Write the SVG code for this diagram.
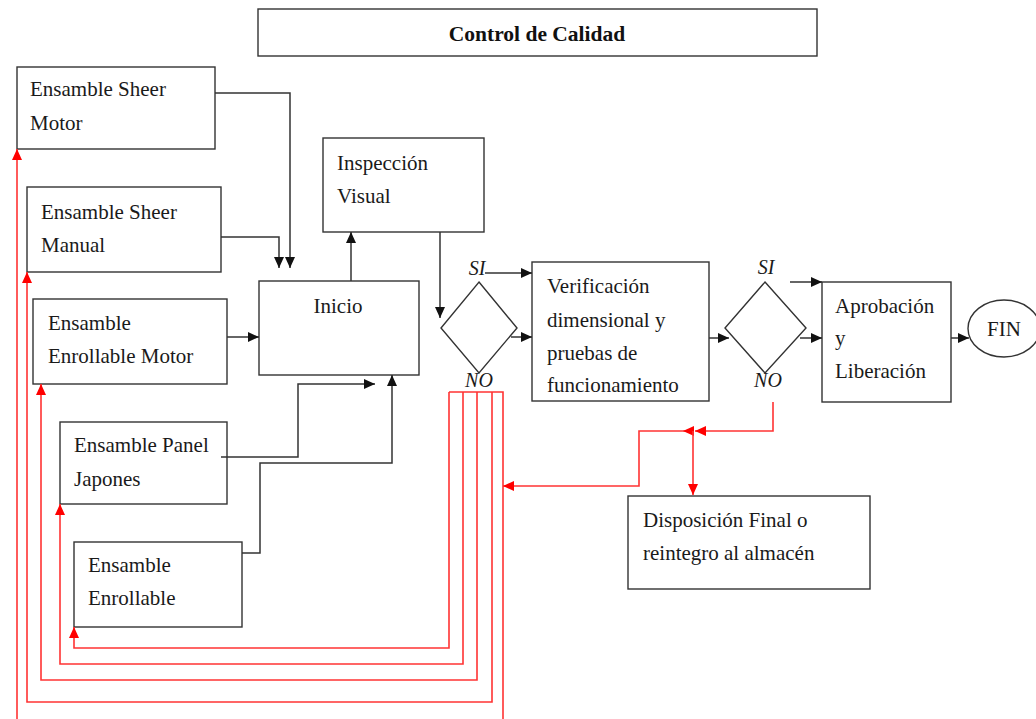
<svg xmlns="http://www.w3.org/2000/svg" width="1036" height="719" viewBox="0 0 1036 719">
  <style>
    .box { fill: #ffffff; stroke: #333333; stroke-width: 1.4; }
    .txt { font-family: 'Liberation Serif', 'DejaVu Serif', serif; font-size: 21px; fill: #1a1a1a; }
    .title { font-family: 'Liberation Serif', 'DejaVu Serif', serif; font-size: 21.5px; font-weight: bold; fill: #111111; }
    .lbl { font-family: 'Liberation Serif', 'DejaVu Serif', serif; font-size: 20px; font-style: italic; fill: #1a1a1a; }
    .blk { fill: none; stroke: #333333; stroke-width: 1.5; }
    .red { fill: none; stroke: #ff3333; stroke-width: 1.6; }
  </style>
  <defs>
    <marker id="arrowBlack" markerUnits="userSpaceOnUse" markerWidth="12" markerHeight="11" refX="11" refY="5" orient="auto">
      <path d="M0,0 L11,5 L0,10 z" fill="#111111"/>
    </marker>
    <marker id="arrowRed" markerUnits="userSpaceOnUse" markerWidth="12" markerHeight="11" refX="11" refY="5" orient="auto">
      <path d="M0,0 L11,5 L0,10 z" fill="#ff0000"/>
    </marker>
  </defs>

  <rect width="1036" height="719" fill="#ffffff"/>

  <g id="title">
    <rect class="box" x="258" y="9" width="559" height="47"/>
    <text class="title" x="537" y="41" text-anchor="middle">Control de Calidad</text>
  </g>

  <g id="sheer-motor">
    <rect class="box" x="17" y="67" width="198" height="82"/>
    <text class="txt" x="30" y="96">Ensamble Sheer</text>
    <text class="txt" x="30" y="130">Motor</text>
  </g>

  <g id="sheer-manual">
    <rect class="box" x="27" y="187" width="194" height="85"/>
    <text class="txt" x="41" y="219">Ensamble Sheer</text>
    <text class="txt" x="41" y="252">Manual</text>
  </g>

  <g id="enrollable-motor">
    <rect class="box" x="33" y="299" width="194" height="85"/>
    <text class="txt" x="48" y="330">Ensamble</text>
    <text class="txt" x="48" y="363">Enrollable Motor</text>
  </g>

  <g id="panel-japones">
    <rect class="box" x="60" y="422" width="167" height="82"/>
    <text class="txt" x="74" y="452">Ensamble Panel</text>
    <text class="txt" x="74" y="486">Japones</text>
  </g>

  <g id="enrollable">
    <rect class="box" x="74" y="542" width="168" height="85"/>
    <text class="txt" x="88" y="572">Ensamble</text>
    <text class="txt" x="88" y="605">Enrollable</text>
  </g>

  <g id="inicio">
    <rect class="box" x="259" y="281" width="160" height="94"/>
    <text class="txt" x="338" y="313" text-anchor="middle">Inicio</text>
  </g>

  <g id="inspeccion">
    <rect class="box" x="323" y="138" width="161" height="94"/>
    <text class="txt" x="337" y="170">Inspección</text>
    <text class="txt" x="337" y="203">Visual</text>
  </g>

  <g id="decision-1">
    <polygon class="box" points="479,282 517,328 479,373 441,328"/>
    <text class="lbl" x="477" y="275" text-anchor="middle">SI</text>
    <text class="lbl" x="479" y="387" text-anchor="middle">NO</text>
  </g>

  <g id="verificacion">
    <rect class="box" x="532" y="262" width="177" height="139"/>
    <text class="txt" x="547" y="293">Verificación</text>
    <text class="txt" x="547" y="327">dimensional y</text>
    <text class="txt" x="547" y="360">pruebas de</text>
    <text class="txt" x="547" y="392">funcionamiento</text>
  </g>

  <g id="decision-2">
    <polygon class="box" points="765,282 806,328 765,373 725,328"/>
    <text class="lbl" x="766" y="274" text-anchor="middle">SI</text>
    <text class="lbl" x="768" y="387" text-anchor="middle">NO</text>
  </g>

  <g id="aprobacion">
    <rect class="box" x="822" y="282" width="129" height="120"/>
    <text class="txt" x="835" y="313">Aprobación</text>
    <text class="txt" x="835" y="345">y</text>
    <text class="txt" x="835" y="378">Liberación</text>
  </g>

  <g id="fin">
    <ellipse class="box" cx="1004" cy="328.5" rx="36" ry="28.5"/>
    <text class="txt" x="1004" y="336" text-anchor="middle">FIN</text>
  </g>

  <g id="disposicion">
    <rect class="box" x="628" y="496" width="242" height="93"/>
    <text class="txt" x="643" y="527">Disposición Final o</text>
    <text class="txt" x="643" y="560">reintegro al almacén</text>
  </g>

  <g id="connectors">
    <!-- main flow -->
    <path class="blk" d="M215,93 H290 V268" marker-end="url(#arrowBlack)"/>
    <path class="blk" d="M221,237 H279 V268" marker-end="url(#arrowBlack)"/>
    <path class="blk" d="M227,337 H259" marker-end="url(#arrowBlack)"/>
    <path class="blk" d="M221,457 H298 V384 H375" marker-end="url(#arrowBlack)"/>
    <path class="blk" d="M242,553 H260 V463 H392 V375" marker-end="url(#arrowBlack)"/>
    <path class="blk" d="M351,281 V232" marker-end="url(#arrowBlack)"/>
    <path class="blk" d="M440,232 V318" marker-end="url(#arrowBlack)"/>
    <path class="blk" d="M485,273 H532" marker-end="url(#arrowBlack)"/>
    <path class="blk" d="M511,337 H532" marker-end="url(#arrowBlack)"/>
    <path class="blk" d="M709,338 H729" marker-end="url(#arrowBlack)"/>
    <path class="blk" d="M790,282 H822" marker-end="url(#arrowBlack)"/>
    <path class="blk" d="M800,338 H822" marker-end="url(#arrowBlack)"/>
    <path class="blk" d="M951,338 H969" marker-end="url(#arrowBlack)"/>

    <!-- rejection returns -->
    <path class="red" d="M449,392 H503 V719"/>
    <path class="red" d="M449,392 V648 H74 V627" marker-end="url(#arrowRed)"/>
    <path class="red" d="M463,392 V664 H60 V504" marker-end="url(#arrowRed)"/>
    <path class="red" d="M477,392 V680 H41 V384" marker-end="url(#arrowRed)"/>
    <path class="red" d="M492,392 V702 H27 V272" marker-end="url(#arrowRed)"/>
    <path class="red" d="M17,719 V149" marker-end="url(#arrowRed)"/>

    <path class="red" d="M773,402 V431 H695" marker-end="url(#arrowRed)"/>
    <path class="red" d="M693,431 H683" marker-end="url(#arrowRed)"/>
    <path class="red" d="M683,431 H639 V486 H503" marker-end="url(#arrowRed)"/>
    <path class="red" d="M693,431 V495" marker-end="url(#arrowRed)"/>
  </g>
</svg>
